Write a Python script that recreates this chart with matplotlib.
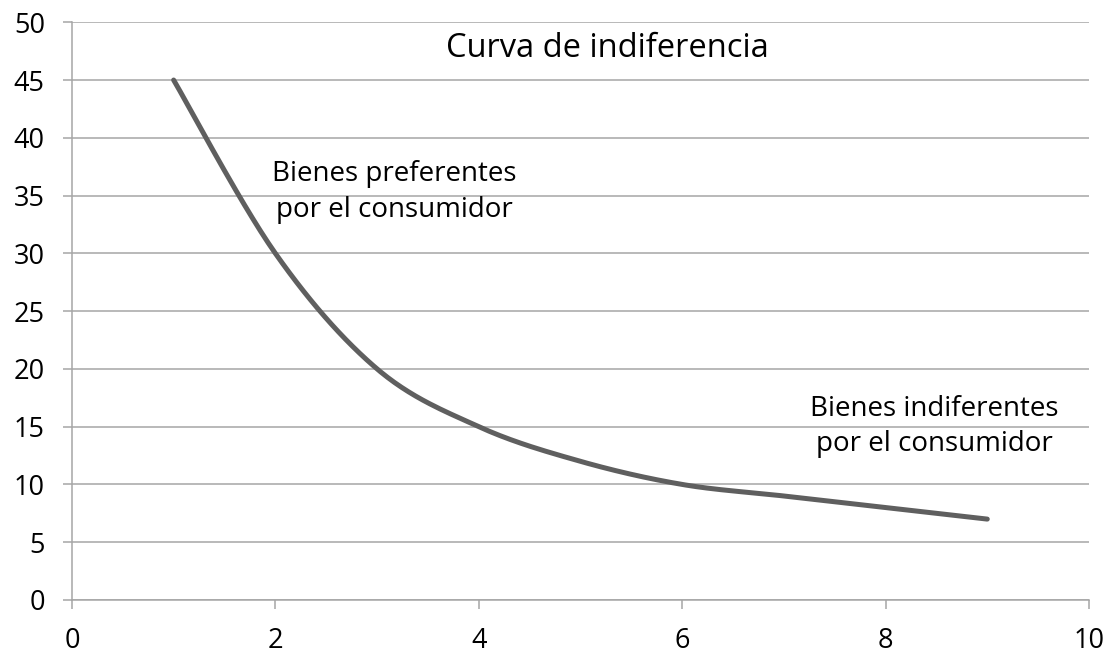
import numpy as np
import matplotlib.pyplot as plt

# indifference curve points (Excel smoothed line)
x_vals = [1, 2, 3, 4, 5, 6, 7, 8, 9]
y_vals = [45, 30, 20, 15, 12, 10, 9, 8, 7]

x_ticks = [0, 2, 4, 6, 8, 10]
y_ticks = [0, 5, 10, 15, 20, 25, 30, 35, 40, 45, 50]


def smooth(xs, ys, n=30):
    # Catmull-Rom style smoothing like Excel's "smoothed line"
    p = np.column_stack([xs, ys]).astype(float)
    p = np.vstack([p[0], p, p[-1]])
    out = []
    for i in range(1, len(p) - 2):
        p0, p1, p2, p3 = p[i - 1], p[i], p[i + 1], p[i + 2]
        c1 = p1 + (p2 - p0) / 6
        c2 = p2 - (p3 - p1) / 6
        t = np.linspace(0, 1, n)[:, None]
        seg = (1 - t) ** 3 * p1 + 3 * (1 - t) ** 2 * t * c1 + 3 * (1 - t) * t ** 2 * c2 + t ** 3 * p2
        out.append(seg if i == 1 else seg[1:])
    seg = np.vstack(out)
    return seg[:, 0], seg[:, 1]


plt.rcParams['font.family'] = ['Open Sans', 'DejaVu Sans']

fig = plt.figure(figsize=(11.12, 6.55), dpi=100)
ax = fig.add_axes([0.0647, 0.084, 0.9146, 0.882])

sx, sy = smooth(x_vals, y_vals)
ax.plot(sx, sy, color='#5f5f5f', lw=3.6, solid_capstyle='round', zorder=3)

ax.set_xlim(0, 10)
ax.set_ylim(0, 50)
ax.set_xticks(x_ticks)
ax.set_yticks(y_ticks)
ax.grid(axis='y', color='#a6a6a6', lw=1.1)
ax.set_axisbelow(True)

for s in ['top', 'right']:
    ax.spines[s].set_visible(False)
for s in ['left', 'bottom']:
    ax.spines[s].set_color('#a6a6a6')
    ax.spines[s].set_linewidth(1.1)

ax.tick_params(axis='y', length=6.5, color='#a6a6a6', width=1.1, labelsize=19.5, pad=13)
ax.tick_params(axis='x', length=6.5, color='#a6a6a6', width=1.1, labelsize=19.5, pad=13)

ax.text(5.26, 47.75, 'Curva de indiferencia', ha='center', va='center', fontsize=23.5)
ax.text(3.17, 35.3, 'Bienes preferentes\npor el consumidor', ha='center', va='center',
        fontsize=20, linespacing=1.35)
ax.text(8.48, 15.0, 'Bienes indiferentes\npor el consumidor', ha='center', va='center',
        fontsize=20, linespacing=1.35)

fig.savefig('out.png', dpi=100)
